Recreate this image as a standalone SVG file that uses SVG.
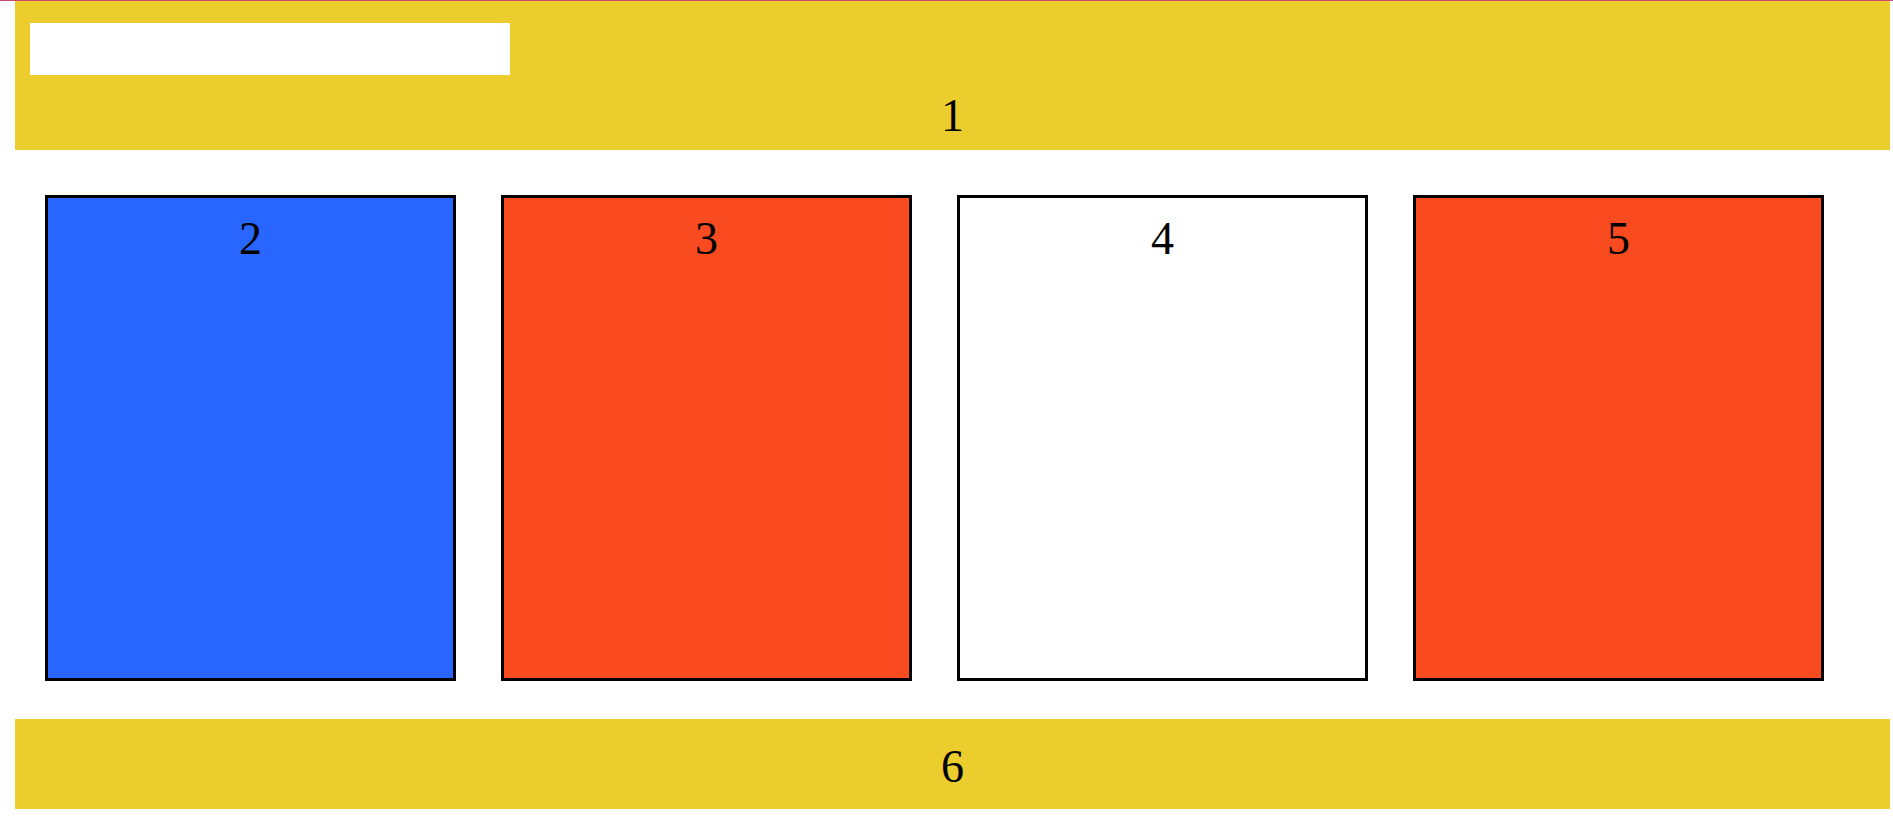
<svg xmlns="http://www.w3.org/2000/svg" width="1893" height="835" viewBox="0 0 1893 835">
<style>
.band{fill:#ECCD2E}
.box{stroke:#000;stroke-width:3}
.lbl{font-family:"Liberation Serif","Times New Roman",serif;font-size:46px;fill:#000;text-anchor:middle}
</style>
<rect x="0" y="0" width="1893" height="835" fill="#fff"/>
<rect x="0" y="0" width="1893" height="1" fill="#C8496B"/>
<g id="node1">
<rect class="band" x="15" y="1" width="1875" height="149"/>
<rect x="30" y="23" width="480" height="52" fill="#fff"/>
<text class="lbl" x="952.5" y="131">1</text>
</g>
<g id="node2">
<rect class="box" x="46.5" y="196.5" width="408" height="483" fill="#2966FF"/>
<text class="lbl" x="250.5" y="254">2</text>
</g>
<g id="node3">
<rect class="box" x="502.5" y="196.5" width="408" height="483" fill="#F94B1F"/>
<text class="lbl" x="706.5" y="254">3</text>
</g>
<g id="node4">
<rect class="box" x="958.5" y="196.5" width="408" height="483" fill="#fff"/>
<text class="lbl" x="1162.5" y="254">4</text>
</g>
<g id="node5">
<rect class="box" x="1414.5" y="196.5" width="408" height="483" fill="#F94B1F"/>
<text class="lbl" x="1618.5" y="254">5</text>
</g>
<g id="node6">
<rect class="band" x="15" y="719" width="1875" height="90"/>
<text class="lbl" x="952.5" y="782">6</text>
</g>
<g id="connectors"></g>
</svg>
